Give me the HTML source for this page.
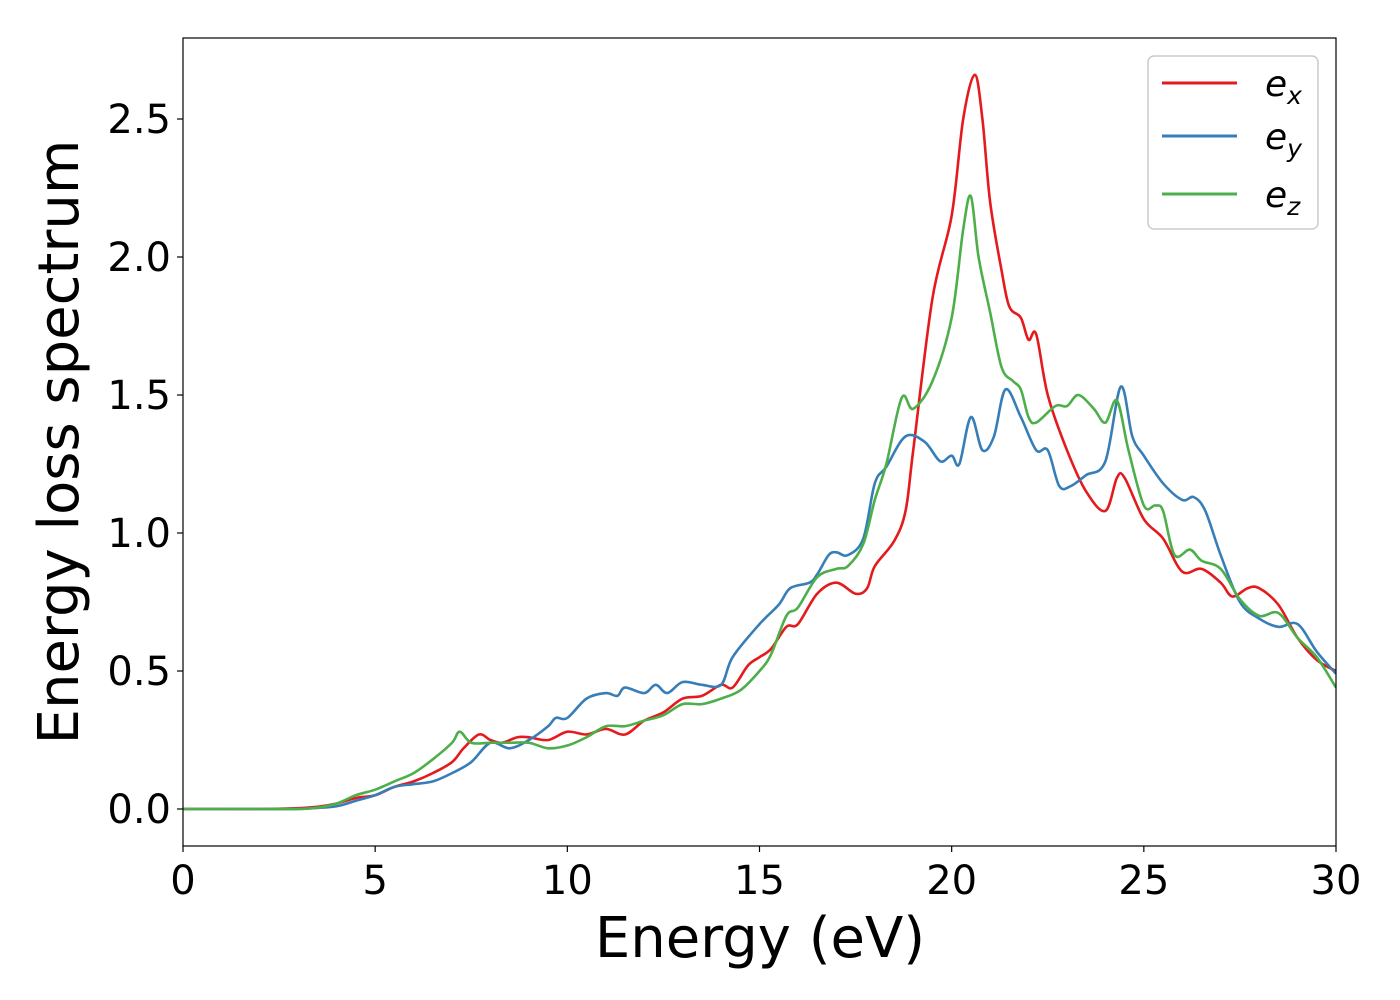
<!DOCTYPE html>
<html><head><meta charset="utf-8"><style>
html,body{margin:0;padding:0;background:#fff;}
svg{display:block;font-family:"DejaVu Sans","Liberation Sans",sans-serif;}
</style></head><body>
<svg id="chart" width="1400" height="1000">
<rect x="0" y="0" width="1400" height="1000" fill="#fff"/>
<g id="plot"></g>
<g id="axes"></g>
<text x="760" y="957" font-size="56" text-anchor="middle">Energy (eV)</text>
<text transform="translate(78,442) rotate(-90)" font-size="56" text-anchor="middle">Energy loss spectrum</text>
<g>
<rect x="1148" y="56" width="170" height="173" rx="6" fill="#fff" stroke="#ccc" stroke-width="1.5"/>
<g><line x1="1162" y1="83" x2="1237" y2="83" stroke="#e41a1c" stroke-width="3"/><text x="1265" y="96" font-size="36" font-style="italic">e<tspan font-size="25" dy="8">x</tspan></text></g>
<g><line x1="1162" y1="136" x2="1237" y2="136" stroke="#377eb8" stroke-width="3"/><text x="1265" y="149" font-size="36" font-style="italic">e<tspan font-size="25" dy="8">y</tspan></text></g>
<g><line x1="1162" y1="194" x2="1237" y2="194" stroke="#4daf4a" stroke-width="3"/><text x="1265" y="207" font-size="36" font-style="italic">e<tspan font-size="25" dy="8">z</tspan></text></g>
</g>
</svg>
<script>
const xTicks=[0,5,10,15,20,25,30];
const yTicks=[0.0,0.5,1.0,1.5,2.0,2.5];
const yTickLabels=["0.0","0.5","1.0","1.5","2.0","2.5"];
const exE=[0,1,2,3,3.5,4,4.5,5,5.5,6,6.5,7,7.3,7.7,8,8.3,8.7,9,9.5,10,10.5,11,11.5,12,12.5,13,13.5,14,14.3,14.7,15,15.3,15.7,16,16.5,17,17.5,17.8,18,18.5,18.8,19,19.5,20,20.3,20.6,20.8,21,21.3,21.5,21.8,22,22.2,22.5,23,23.5,24,24.3,24.5,25,25.5,26,26.5,27,27.3,27.7,28,28.5,29,29.5,30];
const exV=[0,0,0,0.003,0.008,0.02,0.04,0.05,0.08,0.1,0.13,0.17,0.22,0.27,0.25,0.24,0.26,0.26,0.25,0.28,0.27,0.29,0.27,0.32,0.35,0.4,0.41,0.45,0.44,0.52,0.55,0.58,0.66,0.67,0.78,0.82,0.78,0.8,0.88,0.97,1.08,1.3,1.85,2.15,2.5,2.66,2.5,2.2,1.95,1.82,1.78,1.7,1.72,1.5,1.3,1.15,1.08,1.2,1.2,1.05,0.98,0.86,0.87,0.82,0.77,0.8,0.8,0.74,0.62,0.54,0.5];
const eyE=[0,1,2,3,3.5,4,4.5,5,5.5,6,6.5,7,7.5,8,8.5,9,9.5,9.7,10,10.5,11,11.3,11.5,12,12.3,12.6,13,13.5,14,14.3,15,15.5,15.8,16.3,16.5,16.8,17,17.3,17.7,18,18.3,18.8,19.3,19.7,20,20.2,20.5,20.8,21.1,21.4,21.8,22.2,22.5,22.8,23.1,23.5,24,24.4,24.7,25,25.5,26,26.3,26.6,27,27.5,28,28.5,29,29.5,30];
const eyV=[0,0,0,0,0.004,0.01,0.03,0.05,0.08,0.09,0.1,0.13,0.17,0.24,0.22,0.25,0.3,0.33,0.33,0.4,0.42,0.41,0.44,0.42,0.45,0.42,0.46,0.45,0.45,0.55,0.67,0.74,0.8,0.82,0.85,0.92,0.93,0.92,0.98,1.18,1.24,1.35,1.33,1.26,1.28,1.25,1.42,1.3,1.35,1.52,1.42,1.3,1.3,1.17,1.17,1.21,1.26,1.53,1.35,1.28,1.18,1.12,1.13,1.08,0.92,0.75,0.69,0.66,0.67,0.57,0.49];
const ezE=[0,1,2,3,3.5,4,4.5,5,5.5,6,6.5,7,7.2,7.5,8,8.5,9,9.5,10,10.5,11,11.5,12,12.5,13,13.5,14,14.5,15,15.3,15.7,16,16.5,17,17.3,17.7,18,18.3,18.7,19,19.5,20,20.3,20.5,20.7,21,21.3,21.6,21.8,22,22.2,22.7,23,23.3,23.7,24,24.3,24.6,25,25.3,25.5,25.8,26.2,26.5,27,27.5,28,28.5,29,29.5,30];
const ezV=[0,0,0,0,0.005,0.02,0.05,0.07,0.1,0.13,0.18,0.24,0.28,0.24,0.24,0.24,0.24,0.22,0.23,0.26,0.3,0.3,0.32,0.34,0.38,0.38,0.4,0.43,0.5,0.56,0.7,0.73,0.84,0.87,0.88,0.96,1.12,1.25,1.49,1.45,1.55,1.78,2.1,2.22,2.0,1.8,1.6,1.55,1.52,1.42,1.4,1.46,1.46,1.5,1.45,1.4,1.48,1.3,1.1,1.1,1.08,0.92,0.94,0.9,0.87,0.76,0.7,0.71,0.62,0.55,0.44];

const X0=183,X1=1336,YT=38,YB=846;
const sx=v=>X0+(v-0)/30*(X1-X0);
const sy=v=>809-v*276;
const NS="http://www.w3.org/2000/svg";
const plot=document.getElementById('plot'),axes=document.getElementById('axes');
function mk(tag,attrs,parent){const e=document.createElementNS(NS,tag);for(const k in attrs)e.setAttribute(k,attrs[k]);parent.appendChild(e);return e;}
function pathFor(xs,ys){
  const p=xs.map((x,i)=>[sx(x),sy(ys[i])]);
  let d=`M${p[0][0]},${p[0][1]}`;
  for(let i=0;i<p.length-1;i++){
    const p0=p[Math.max(0,i-1)],p1=p[i],p2=p[i+1],p3=p[Math.min(p.length-1,i+2)];
    const c1=[p1[0]+(p2[0]-p0[0])/6,p1[1]+(p2[1]-p0[1])/6];
    const c2=[p2[0]-(p3[0]-p1[0])/6,p2[1]-(p3[1]-p1[1])/6];
    d+=`C${c1[0]},${c1[1]} ${c2[0]},${c2[1]} ${p2[0]},${p2[1]}`;
  }
  return d;
}
mk('clipPath',{id:'clip'},plot).appendChild(Object.assign(document.createElementNS(NS,'rect'),{}));
plot.querySelector('clipPath rect').setAttribute('x',X0);
plot.querySelector('clipPath rect').setAttribute('y',YT);
plot.querySelector('clipPath rect').setAttribute('width',X1-X0);
plot.querySelector('clipPath rect').setAttribute('height',YB-YT);
const series=[[exE,exV,'#e41a1c','series-ex'],[eyE,eyV,'#377eb8','series-ey'],[ezE,ezV,'#4daf4a','series-ez']];
series.forEach(s=>{
  const el=mk('path',{d:pathFor(s[0],s[1]),fill:'none',stroke:s[2],'stroke-width':2.6,'clip-path':'url(#clip)'},plot);
  
  
});
const frame=mk('rect',{x:X0,y:YT,width:X1-X0,height:YB-YT,fill:'none',stroke:'#000','stroke-width':1.2},axes);


xTicks.forEach(t=>{
  mk('line',{x1:sx(t),x2:sx(t),y1:YB,y2:YB+6,stroke:'#000','stroke-width':1.2},axes);
  const tx=mk('text',{x:sx(t),y:YB+48,'font-size':40,'text-anchor':'middle'},axes);
  tx.textContent=t;
  
  
});
yTicks.forEach((t,i)=>{
  mk('line',{x1:X0-6,x2:X0,y1:sy(t),y2:sy(t),stroke:'#000','stroke-width':1.2},axes);
  const tx=mk('text',{x:X0-12,y:sy(t)+14,'font-size':40,'text-anchor':'end'},axes);
  tx.textContent=yTickLabels[i];
  
  
});
</script>
</body></html>
